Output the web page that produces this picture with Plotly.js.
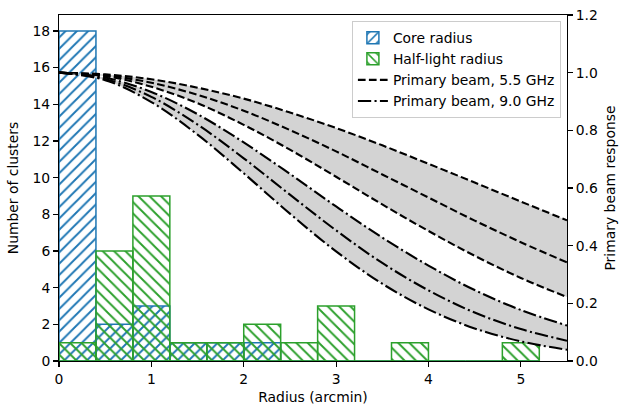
<!DOCTYPE html>
<html>
<head>
<meta charset="utf-8">
<script src="https://cdn.plot.ly/plotly-3.0.1.min.js"></script>
<style>html,body{margin:0;padding:0;background:#fff;}#chart{width:621px;height:407px;}</style>
</head>
<body>
<div id="chart"></div>
<script>
// Histogram bins (arcmin), bin width 0.4
const binCenters = [0.2, 0.6, 1.0, 1.4, 1.8, 2.2, 2.6, 3.0, 3.4, 3.8, 4.2, 4.6, 5.0];
const coreCounts = [18, 2, 3, 1, 1, 1, 0, 0, 0, 0, 0, 0, 0];
const halfLightCounts = [1, 6, 9, 1, 1, 2, 1, 3, 0, 1, 0, 0, 1];

// Primary beam response curves
const beamR = [0, 0.5, 1.0, 1.5, 2.0, 2.5, 3.0, 3.5, 4.0, 4.5, 5.0, 5.5];
const beam55Upper = [1.000, 0.994, 0.977, 0.948, 0.910, 0.862, 0.808, 0.748, 0.684, 0.619, 0.553, 0.488];
const beam55Mid   = [1.000, 0.991, 0.965, 0.923, 0.868, 0.801, 0.727, 0.647, 0.567, 0.487, 0.412, 0.342];
const beam55Lower = [1.000, 0.988, 0.951, 0.894, 0.819, 0.733, 0.639, 0.543, 0.451, 0.365, 0.288, 0.222];
const beam90Upper = [1.000, 0.983, 0.933, 0.856, 0.758, 0.649, 0.536, 0.428, 0.331, 0.246, 0.177, 0.123];
const beam90Mid   = [1.000, 0.978, 0.916, 0.820, 0.703, 0.577, 0.453, 0.340, 0.245, 0.168, 0.111, 0.070];
const beam90Lower = [1.000, 0.974, 0.898, 0.785, 0.651, 0.511, 0.380, 0.268, 0.179, 0.113, 0.068, 0.039];

const BLUE = '#1f77b4', GREEN = '#2ca02c';
const FONT = 'DejaVu Sans, sans-serif';
const FS = 13.9;

function barTrace(name, y, color, shape) {
  return {
    type: 'bar', name: name, x: binCenters, y: y, width: 0.4,
    marker: {
      color: 'rgba(0,0,0,0)',
      line: {color: color, width: 1.5},
      pattern: {shape: shape, fgcolor: color, bgcolor: 'rgba(0,0,0,0)', fgopacity: 1, size: 8, solidity: 0.24, fillmode: 'overlay'}
    },
    xaxis: 'x', yaxis: 'y', hoverinfo: 'skip'
  };
}
function beamTrace(name, y, dash, opts) {
  return Object.assign({
    type: 'scatter', mode: 'lines', name: name, x: beamR, y: y,
    line: {color: 'black', width: 2.1, dash: dash, shape: 'spline', smoothing: 1},
    xaxis: 'x', yaxis: 'y2', showlegend: false, hoverinfo: 'skip'
  }, opts || {});
}
const DASH = '7.7px,3.3px';
const DASHDOT = '13.3px,3.3px,2.1px,3.3px';

const data = [
  barTrace('Core radius', coreCounts, BLUE, '/'),
  barTrace('Half-light radius', halfLightCounts, GREEN, '\\'),
  beamTrace('Primary beam, 5.5 GHz', beam55Upper, DASH, {showlegend: true}),
  beamTrace('b55l', beam55Lower, DASH, {fill: 'tonexty', fillcolor: '#d3d3d3'}),
  beamTrace('b55m', beam55Mid, DASH),
  beamTrace('Primary beam, 9.0 GHz', beam90Upper, DASHDOT, {showlegend: true}),
  beamTrace('b90l', beam90Lower, DASHDOT, {fill: 'tonexty', fillcolor: '#d3d3d3'}),
  beamTrace('b90m', beam90Mid, DASHDOT)
];

const axisCommon = {
  showgrid: false, zeroline: false, showline: true, linecolor: 'black', linewidth: 1.1,
  ticks: 'outside', ticklen: 4.9, tickwidth: 1.1, tickcolor: 'black',
  tickfont: {family: FONT, size: FS, color: 'black'}
};

const layout = {
  width: 621, height: 407,
  margin: {l: 59, r: 54, t: 15, b: 46, pad: 0},
  paper_bgcolor: 'white', plot_bgcolor: 'white',
  font: {family: FONT, size: FS, color: 'black'},
  barmode: 'overlay',
  showlegend: true,
  xaxis: Object.assign({}, axisCommon, {
    range: [0, 5.5], tickvals: [0, 1, 2, 3, 4, 5], mirror: true,
    title: {text: 'Radius (arcmin)', font: {family: FONT, size: FS}, standoff: 6}
  }),
  yaxis: Object.assign({}, axisCommon, {
    range: [0, 18.87], tickvals: [0, 2, 4, 6, 8, 10, 12, 14, 16, 18],
    title: {text: 'Number of clusters', font: {family: FONT, size: FS}, standoff: 10}
  }),
  yaxis2: Object.assign({}, axisCommon, {
    range: [0, 1.2], tickvals: [0, 0.2, 0.4, 0.6, 0.8, 1.0, 1.2], tickformat: '.1f',
    overlaying: 'y', side: 'right', anchor: 'x',
    title: {text: 'Primary beam response', font: {family: FONT, size: FS}, standoff: 8}
  }),
  legend: {
    x: 0.988, xanchor: 'right', y: 0.982, yanchor: 'top',
    bgcolor: 'rgba(255,255,255,0.8)', bordercolor: '#cccccc', borderwidth: 1,
    font: {family: FONT, size: FS, color: 'black'},
    traceorder: 'normal', itemwidth: 30, tracegroupgap: 0
  }
};

Plotly.newPlot('chart', data, layout, {staticPlot: true, displayModeBar: false});
</script>
</body>
</html>
